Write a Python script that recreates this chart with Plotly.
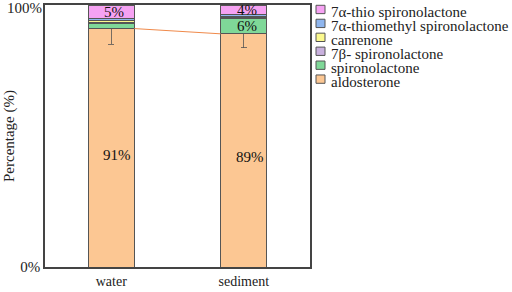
import plotly.graph_objects as go

categories = ["water", "sediment"]
series_names = ["aldosterone", "spironolactone", "7β- spironolactone", "canrenone",
                "7α-thiomethyl spironolactone", "7α-thio spironolactone"]
aldosterone = [91.0, 89.0]
spironolactone = [1.9, 5.8]
beta7_spironolactone = [0.6, 0.5]
canrenone = [0.6, 0.4]
thiomethyl_spironolactone = [0.9, 0.6]
thio_spironolactone = [5.0, 3.7]
aldosterone_err_plus = [9.0, 6.0]
aldosterone_err_minus = [6.0, 5.3]
y_tick_vals = [0, 100]
y_tick_text = ["0%", "100%"]
label_text = {
    "aldosterone": ["91%", "89%"],
    "spironolactone": ["", "6%"],
    "7α-thio spironolactone": ["5%", "4%"],
}
colors = ["#fcc793", "#7fd898", "#c9b1de", "#fbf98e", "#8fb6ee", "#f6a2f3"]

values = [aldosterone, spironolactone, beta7_spironolactone, canrenone,
          thiomethyl_spironolactone, thio_spironolactone]
xs = list(range(len(categories)))
bar_width = 0.35
FONT = "Times New Roman"
EDGE = "#555555"

# plot-area geometry in pixels
W, H = 512, 292
PL, PR, PT, PB = 45, 310, 3, 270


def px_to_paper_x(px):
    return (px - PL) / (PR - PL)


def px_to_paper_y(py):
    return (PB - py) / (PB - PT)


fig = go.Figure()
for i, (name, vals, col) in enumerate(zip(series_names, values, colors)):
    fig.add_trace(go.Bar(
        x=xs, y=vals, name=name, width=bar_width, showlegend=False,
        marker=dict(color=col, line=dict(color=EDGE, width=1)),
        error_y=dict(type="data", symmetric=False, array=aldosterone_err_plus,
                     arrayminus=aldosterone_err_minus, color=EDGE,
                     thickness=0.8, width=3) if i == 0 else None,
    ))

# series line connecting aldosterone tops
fig.add_trace(go.Scatter(
    x=[xs[0] + bar_width / 2, xs[1] - bar_width / 2], y=aldosterone,
    mode="lines", line=dict(color="#f08a4b", width=1), showlegend=False,
    hoverinfo="skip"))

# percentage labels
for j in range(len(categories)):
    base = 0.0
    for name, vals in zip(series_names, values):
        if name in label_text and label_text[name][j]:
            big = name == "aldosterone"
            fig.add_annotation(x=xs[j], y=base + vals[j] / 2, text=label_text[name][j],
                               showarrow=False, font=dict(family=FONT, size=15, color="#111111"),
                               xshift=6 if big else 3, yshift=-7 if big else 0)
        base += vals[j]

# y tick labels: 0% via axis, top label as annotation at the axis top (avoids div-edge hiding)
fig.add_annotation(xref="paper", yref="y", x=0, y=y_tick_vals[1], text=y_tick_text[1],
                   xanchor="right", yanchor="middle", xshift=-1, yshift=-3, showarrow=False,
                   font=dict(family=FONT, size=15, color="#222222"))

# legend (top entry = last series)
for k, (name, col) in enumerate(zip(reversed(series_names), reversed(colors))):
    top = 3.3 + 14.2 * k
    fig.add_shape(type="rect", xref="paper", yref="paper",
                  x0=px_to_paper_x(316), x1=px_to_paper_x(325),
                  y0=px_to_paper_y(top + 8.5), y1=px_to_paper_y(top),
                  fillcolor=col, line=dict(color=EDGE, width=1))
    fig.add_annotation(xref="paper", yref="paper", x=px_to_paper_x(329),
                       y=px_to_paper_y(10.5 + 14.2 * k), xanchor="left", yanchor="middle",
                       text=name, showarrow=False,
                       font=dict(family=FONT, size=15, color="#222222"))

fig.update_layout(
    width=W, height=H,
    margin=dict(l=PL, r=W - PR, t=PT, b=H - PB),
    barmode="stack",
    plot_bgcolor="white", paper_bgcolor="white",
    font=dict(family=FONT, size=14, color="#222222"),
    showlegend=False,
    hovermode=False, dragmode=False,
    xaxis=dict(range=[-0.5, 1.5], tickvals=xs, ticktext=categories, showgrid=False,
               showline=True, mirror=True, linecolor="#444444", linewidth=1.5,
               ticks="", tickfont=dict(family=FONT, size=14), zeroline=False,
               fixedrange=True),
    yaxis=dict(range=[0, 100], tickvals=y_tick_vals[:1], ticktext=y_tick_text[:1],
               showgrid=False, showline=True, mirror=True, linecolor="#444444", linewidth=1.5,
               ticks="", tickfont=dict(family=FONT, size=15), zeroline=False,
               fixedrange=True,
               title=dict(text="Percentage (%)", font=dict(family=FONT, size=15), standoff=2)),
)

reset_css = ("var s=document.createElement('style');"
             "s.textContent='html,body{margin:0!important;padding:0!important;overflow:hidden}';"
             "document.head.appendChild(s);document.body.style.margin='0px';window.scrollTo(0,0);")
fig.write_html("out.html", config={"displayModeBar": False}, post_script=reset_css)
